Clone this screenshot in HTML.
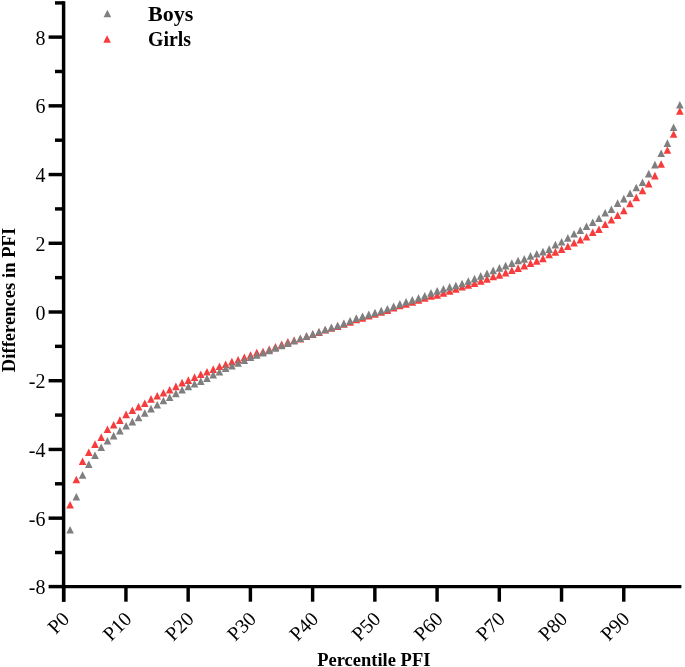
<!DOCTYPE html>
<html><head><meta charset="utf-8"><style>html,body{margin:0;padding:0;background:#fff;width:685px;height:667px;overflow:hidden}svg{display:block;will-change:transform}</style></head>
<body>
<svg width="685" height="667" viewBox="0 0 685 667">
<rect width="685" height="667" fill="#fff"/>
<path d="M70.12 501.00L73.92 508.60L66.32 508.60Z" fill="#f63c3c"/>
<path d="M76.34 475.70L80.14 483.30L72.54 483.30Z" fill="#f63c3c"/>
<path d="M82.56 457.40L86.36 465.00L78.76 465.00Z" fill="#f63c3c"/>
<path d="M88.79 448.50L92.59 456.10L84.99 456.10Z" fill="#f63c3c"/>
<path d="M95.01 440.30L98.81 447.90L91.21 447.90Z" fill="#f63c3c"/>
<path d="M101.23 433.50L105.03 441.10L97.43 441.10Z" fill="#f63c3c"/>
<path d="M107.45 425.50L111.25 433.10L103.65 433.10Z" fill="#f63c3c"/>
<path d="M113.67 420.90L117.47 428.50L109.87 428.50Z" fill="#f63c3c"/>
<path d="M119.89 416.30L123.69 423.90L116.09 423.90Z" fill="#f63c3c"/>
<path d="M126.11 410.60L129.91 418.20L122.31 418.20Z" fill="#f63c3c"/>
<path d="M132.34 406.40L136.14 414.00L128.54 414.00Z" fill="#f63c3c"/>
<path d="M138.56 402.80L142.36 410.40L134.76 410.40Z" fill="#f63c3c"/>
<path d="M144.78 399.50L148.58 407.10L140.98 407.10Z" fill="#f63c3c"/>
<path d="M151.00 395.10L154.80 402.70L147.20 402.70Z" fill="#f63c3c"/>
<path d="M157.22 392.00L161.02 399.60L153.42 399.60Z" fill="#f63c3c"/>
<path d="M163.44 388.90L167.24 396.50L159.64 396.50Z" fill="#f63c3c"/>
<path d="M169.67 385.90L173.47 393.50L165.87 393.50Z" fill="#f63c3c"/>
<path d="M175.89 382.60L179.69 390.20L172.09 390.20Z" fill="#f63c3c"/>
<path d="M182.11 378.80L185.91 386.40L178.31 386.40Z" fill="#f63c3c"/>
<path d="M188.33 376.30L192.13 383.90L184.53 383.90Z" fill="#f63c3c"/>
<path d="M194.55 373.30L198.35 380.90L190.75 380.90Z" fill="#f63c3c"/>
<path d="M200.77 370.50L204.57 378.10L196.97 378.10Z" fill="#f63c3c"/>
<path d="M206.99 367.90L210.79 375.50L203.19 375.50Z" fill="#f63c3c"/>
<path d="M213.22 365.30L217.02 372.90L209.42 372.90Z" fill="#f63c3c"/>
<path d="M219.44 362.50L223.24 370.10L215.64 370.10Z" fill="#f63c3c"/>
<path d="M225.66 360.40L229.46 368.00L221.86 368.00Z" fill="#f63c3c"/>
<path d="M231.88 357.80L235.68 365.40L228.08 365.40Z" fill="#f63c3c"/>
<path d="M238.10 356.00L241.90 363.60L234.30 363.60Z" fill="#f63c3c"/>
<path d="M244.32 353.50L248.12 361.10L240.52 361.10Z" fill="#f63c3c"/>
<path d="M250.54 351.20L254.34 358.80L246.74 358.80Z" fill="#f63c3c"/>
<path d="M256.77 348.70L260.57 356.30L252.97 356.30Z" fill="#f63c3c"/>
<path d="M262.99 347.70L266.79 355.30L259.19 355.30Z" fill="#f63c3c"/>
<path d="M269.21 345.40L273.01 353.00L265.41 353.00Z" fill="#f63c3c"/>
<path d="M275.43 343.00L279.23 350.60L271.63 350.60Z" fill="#f63c3c"/>
<path d="M281.65 340.50L285.45 348.10L277.85 348.10Z" fill="#f63c3c"/>
<path d="M287.87 338.00L291.67 345.60L284.07 345.60Z" fill="#f63c3c"/>
<path d="M294.10 336.50L297.90 344.10L290.30 344.10Z" fill="#f63c3c"/>
<path d="M300.32 335.00L304.12 342.60L296.52 342.60Z" fill="#f63c3c"/>
<path d="M306.54 332.40L310.34 340.00L302.74 340.00Z" fill="#f63c3c"/>
<path d="M312.76 330.40L316.56 338.00L308.96 338.00Z" fill="#f63c3c"/>
<path d="M318.98 328.30L322.78 335.90L315.18 335.90Z" fill="#f63c3c"/>
<path d="M325.20 326.00L329.00 333.60L321.40 333.60Z" fill="#f63c3c"/>
<path d="M331.42 324.20L335.22 331.80L327.62 331.80Z" fill="#f63c3c"/>
<path d="M337.65 322.30L341.45 329.90L333.85 329.90Z" fill="#f63c3c"/>
<path d="M343.87 320.20L347.67 327.80L340.07 327.80Z" fill="#f63c3c"/>
<path d="M350.09 318.10L353.89 325.70L346.29 325.70Z" fill="#f63c3c"/>
<path d="M356.31 315.60L360.11 323.20L352.51 323.20Z" fill="#f63c3c"/>
<path d="M362.53 314.10L366.33 321.70L358.73 321.70Z" fill="#f63c3c"/>
<path d="M368.75 312.00L372.55 319.60L364.95 319.60Z" fill="#f63c3c"/>
<path d="M374.97 310.10L378.77 317.70L371.17 317.70Z" fill="#f63c3c"/>
<path d="M381.20 308.10L385.00 315.70L377.40 315.70Z" fill="#f63c3c"/>
<path d="M387.42 306.40L391.22 314.00L383.62 314.00Z" fill="#f63c3c"/>
<path d="M393.64 303.80L397.44 311.40L389.84 311.40Z" fill="#f63c3c"/>
<path d="M399.86 301.60L403.66 309.20L396.06 309.20Z" fill="#f63c3c"/>
<path d="M406.08 300.10L409.88 307.70L402.28 307.70Z" fill="#f63c3c"/>
<path d="M412.30 298.10L416.10 305.70L408.50 305.70Z" fill="#f63c3c"/>
<path d="M418.53 296.10L422.33 303.70L414.73 303.70Z" fill="#f63c3c"/>
<path d="M424.75 294.10L428.55 301.70L420.95 301.70Z" fill="#f63c3c"/>
<path d="M430.97 292.20L434.77 299.80L427.17 299.80Z" fill="#f63c3c"/>
<path d="M437.19 291.20L440.99 298.80L433.39 298.80Z" fill="#f63c3c"/>
<path d="M443.41 289.20L447.21 296.80L439.61 296.80Z" fill="#f63c3c"/>
<path d="M449.63 287.20L453.43 294.80L445.83 294.80Z" fill="#f63c3c"/>
<path d="M455.85 285.20L459.65 292.80L452.05 292.80Z" fill="#f63c3c"/>
<path d="M462.08 283.00L465.88 290.60L458.28 290.60Z" fill="#f63c3c"/>
<path d="M468.30 281.20L472.10 288.80L464.50 288.80Z" fill="#f63c3c"/>
<path d="M474.52 279.30L478.32 286.90L470.72 286.90Z" fill="#f63c3c"/>
<path d="M480.74 277.10L484.54 284.70L476.94 284.70Z" fill="#f63c3c"/>
<path d="M486.96 275.10L490.76 282.70L483.16 282.70Z" fill="#f63c3c"/>
<path d="M493.18 272.60L496.98 280.20L489.38 280.20Z" fill="#f63c3c"/>
<path d="M499.40 271.10L503.20 278.70L495.60 278.70Z" fill="#f63c3c"/>
<path d="M505.63 268.80L509.43 276.40L501.83 276.40Z" fill="#f63c3c"/>
<path d="M511.85 266.50L515.65 274.10L508.05 274.10Z" fill="#f63c3c"/>
<path d="M518.07 264.30L521.87 271.90L514.27 271.90Z" fill="#f63c3c"/>
<path d="M524.29 261.80L528.09 269.40L520.49 269.40Z" fill="#f63c3c"/>
<path d="M530.51 259.30L534.31 266.90L526.71 266.90Z" fill="#f63c3c"/>
<path d="M536.73 257.10L540.53 264.70L532.93 264.70Z" fill="#f63c3c"/>
<path d="M542.96 254.60L546.76 262.20L539.16 262.20Z" fill="#f63c3c"/>
<path d="M549.18 250.70L552.98 258.30L545.38 258.30Z" fill="#f63c3c"/>
<path d="M555.40 248.10L559.20 255.70L551.60 255.70Z" fill="#f63c3c"/>
<path d="M561.62 245.30L565.42 252.90L557.82 252.90Z" fill="#f63c3c"/>
<path d="M567.84 242.40L571.64 250.00L564.04 250.00Z" fill="#f63c3c"/>
<path d="M574.06 239.00L577.86 246.60L570.26 246.60Z" fill="#f63c3c"/>
<path d="M580.28 236.00L584.08 243.60L576.48 243.60Z" fill="#f63c3c"/>
<path d="M586.51 233.00L590.31 240.60L582.71 240.60Z" fill="#f63c3c"/>
<path d="M592.73 228.50L596.53 236.10L588.93 236.10Z" fill="#f63c3c"/>
<path d="M598.95 225.50L602.75 233.10L595.15 233.10Z" fill="#f63c3c"/>
<path d="M605.17 220.50L608.97 228.10L601.37 228.10Z" fill="#f63c3c"/>
<path d="M611.39 216.00L615.19 223.60L607.59 223.60Z" fill="#f63c3c"/>
<path d="M617.61 211.50L621.41 219.10L613.81 219.10Z" fill="#f63c3c"/>
<path d="M623.83 206.70L627.63 214.30L620.03 214.30Z" fill="#f63c3c"/>
<path d="M630.06 199.70L633.86 207.30L626.26 207.30Z" fill="#f63c3c"/>
<path d="M636.28 193.60L640.08 201.20L632.48 201.20Z" fill="#f63c3c"/>
<path d="M642.50 186.70L646.30 194.30L638.70 194.30Z" fill="#f63c3c"/>
<path d="M648.72 180.00L652.52 187.60L644.92 187.60Z" fill="#f63c3c"/>
<path d="M654.94 171.80L658.74 179.40L651.14 179.40Z" fill="#f63c3c"/>
<path d="M661.16 160.20L664.96 167.80L657.36 167.80Z" fill="#f63c3c"/>
<path d="M667.39 146.20L671.19 153.80L663.59 153.80Z" fill="#f63c3c"/>
<path d="M673.61 130.20L677.41 137.80L669.81 137.80Z" fill="#f63c3c"/>
<path d="M679.83 107.20L683.63 114.80L676.03 114.80Z" fill="#f63c3c"/>
<path d="M70.12 526.00L73.92 533.60L66.32 533.60Z" fill="#7f7f7f"/>
<path d="M76.34 493.00L80.14 500.60L72.54 500.60Z" fill="#7f7f7f"/>
<path d="M82.56 471.20L86.36 478.80L78.76 478.80Z" fill="#7f7f7f"/>
<path d="M88.79 460.50L92.59 468.10L84.99 468.10Z" fill="#7f7f7f"/>
<path d="M95.01 451.40L98.81 459.00L91.21 459.00Z" fill="#7f7f7f"/>
<path d="M101.23 443.50L105.03 451.10L97.43 451.10Z" fill="#7f7f7f"/>
<path d="M107.45 436.90L111.25 444.50L103.65 444.50Z" fill="#7f7f7f"/>
<path d="M113.67 431.80L117.47 439.40L109.87 439.40Z" fill="#7f7f7f"/>
<path d="M119.89 426.80L123.69 434.40L116.09 434.40Z" fill="#7f7f7f"/>
<path d="M126.11 421.90L129.91 429.50L122.31 429.50Z" fill="#7f7f7f"/>
<path d="M132.34 417.80L136.14 425.40L128.54 425.40Z" fill="#7f7f7f"/>
<path d="M138.56 413.70L142.36 421.30L134.76 421.30Z" fill="#7f7f7f"/>
<path d="M144.78 409.20L148.58 416.80L140.98 416.80Z" fill="#7f7f7f"/>
<path d="M151.00 404.80L154.80 412.40L147.20 412.40Z" fill="#7f7f7f"/>
<path d="M157.22 400.90L161.02 408.50L153.42 408.50Z" fill="#7f7f7f"/>
<path d="M163.44 396.70L167.24 404.30L159.64 404.30Z" fill="#7f7f7f"/>
<path d="M169.67 393.50L173.47 401.10L165.87 401.10Z" fill="#7f7f7f"/>
<path d="M175.89 389.60L179.69 397.20L172.09 397.20Z" fill="#7f7f7f"/>
<path d="M182.11 386.00L185.91 393.60L178.31 393.60Z" fill="#7f7f7f"/>
<path d="M188.33 382.60L192.13 390.20L184.53 390.20Z" fill="#7f7f7f"/>
<path d="M194.55 380.00L198.35 387.60L190.75 387.60Z" fill="#7f7f7f"/>
<path d="M200.77 377.30L204.57 384.90L196.97 384.90Z" fill="#7f7f7f"/>
<path d="M206.99 374.50L210.79 382.10L203.19 382.10Z" fill="#7f7f7f"/>
<path d="M213.22 370.80L217.02 378.40L209.42 378.40Z" fill="#7f7f7f"/>
<path d="M219.44 367.90L223.24 375.50L215.64 375.50Z" fill="#7f7f7f"/>
<path d="M225.66 364.30L229.46 371.90L221.86 371.90Z" fill="#7f7f7f"/>
<path d="M231.88 362.00L235.68 369.60L228.08 369.60Z" fill="#7f7f7f"/>
<path d="M238.10 359.20L241.90 366.80L234.30 366.80Z" fill="#7f7f7f"/>
<path d="M244.32 356.50L248.12 364.10L240.52 364.10Z" fill="#7f7f7f"/>
<path d="M250.54 353.40L254.34 361.00L246.74 361.00Z" fill="#7f7f7f"/>
<path d="M256.77 351.20L260.57 358.80L252.97 358.80Z" fill="#7f7f7f"/>
<path d="M262.99 348.90L266.79 356.50L259.19 356.50Z" fill="#7f7f7f"/>
<path d="M269.21 346.60L273.01 354.20L265.41 354.20Z" fill="#7f7f7f"/>
<path d="M275.43 344.10L279.23 351.70L271.63 351.70Z" fill="#7f7f7f"/>
<path d="M281.65 341.70L285.45 349.30L277.85 349.30Z" fill="#7f7f7f"/>
<path d="M287.87 339.30L291.67 346.90L284.07 346.90Z" fill="#7f7f7f"/>
<path d="M294.10 336.90L297.90 344.50L290.30 344.50Z" fill="#7f7f7f"/>
<path d="M300.32 334.40L304.12 342.00L296.52 342.00Z" fill="#7f7f7f"/>
<path d="M306.54 332.10L310.34 339.70L302.74 339.70Z" fill="#7f7f7f"/>
<path d="M312.76 330.10L316.56 337.70L308.96 337.70Z" fill="#7f7f7f"/>
<path d="M318.98 328.00L322.78 335.60L315.18 335.60Z" fill="#7f7f7f"/>
<path d="M325.20 325.70L329.00 333.30L321.40 333.30Z" fill="#7f7f7f"/>
<path d="M331.42 323.60L335.22 331.20L327.62 331.20Z" fill="#7f7f7f"/>
<path d="M337.65 321.70L341.45 329.30L333.85 329.30Z" fill="#7f7f7f"/>
<path d="M343.87 319.60L347.67 327.20L340.07 327.20Z" fill="#7f7f7f"/>
<path d="M350.09 316.90L353.89 324.50L346.29 324.50Z" fill="#7f7f7f"/>
<path d="M356.31 314.30L360.11 321.90L352.51 321.90Z" fill="#7f7f7f"/>
<path d="M362.53 312.50L366.33 320.10L358.73 320.10Z" fill="#7f7f7f"/>
<path d="M368.75 310.60L372.55 318.20L364.95 318.20Z" fill="#7f7f7f"/>
<path d="M374.97 308.80L378.77 316.40L371.17 316.40Z" fill="#7f7f7f"/>
<path d="M381.20 306.80L385.00 314.40L377.40 314.40Z" fill="#7f7f7f"/>
<path d="M387.42 304.90L391.22 312.50L383.62 312.50Z" fill="#7f7f7f"/>
<path d="M393.64 302.50L397.44 310.10L389.84 310.10Z" fill="#7f7f7f"/>
<path d="M399.86 300.10L403.66 307.70L396.06 307.70Z" fill="#7f7f7f"/>
<path d="M406.08 297.90L409.88 305.50L402.28 305.50Z" fill="#7f7f7f"/>
<path d="M412.30 296.10L416.10 303.70L408.50 303.70Z" fill="#7f7f7f"/>
<path d="M418.53 294.20L422.33 301.80L414.73 301.80Z" fill="#7f7f7f"/>
<path d="M424.75 292.00L428.55 299.60L420.95 299.60Z" fill="#7f7f7f"/>
<path d="M430.97 289.10L434.77 296.70L427.17 296.70Z" fill="#7f7f7f"/>
<path d="M437.19 287.10L440.99 294.70L433.39 294.70Z" fill="#7f7f7f"/>
<path d="M443.41 285.10L447.21 292.70L439.61 292.70Z" fill="#7f7f7f"/>
<path d="M449.63 283.10L453.43 290.70L445.83 290.70Z" fill="#7f7f7f"/>
<path d="M455.85 281.70L459.65 289.30L452.05 289.30Z" fill="#7f7f7f"/>
<path d="M462.08 279.70L465.88 287.30L458.28 287.30Z" fill="#7f7f7f"/>
<path d="M468.30 277.20L472.10 284.80L464.50 284.80Z" fill="#7f7f7f"/>
<path d="M474.52 274.80L478.32 282.40L470.72 282.40Z" fill="#7f7f7f"/>
<path d="M480.74 272.10L484.54 279.70L476.94 279.70Z" fill="#7f7f7f"/>
<path d="M486.96 269.60L490.76 277.20L483.16 277.20Z" fill="#7f7f7f"/>
<path d="M493.18 266.60L496.98 274.20L489.38 274.20Z" fill="#7f7f7f"/>
<path d="M499.40 264.10L503.20 271.70L495.60 271.70Z" fill="#7f7f7f"/>
<path d="M505.63 261.80L509.43 269.40L501.83 269.40Z" fill="#7f7f7f"/>
<path d="M511.85 259.30L515.65 266.90L508.05 266.90Z" fill="#7f7f7f"/>
<path d="M518.07 256.70L521.87 264.30L514.27 264.30Z" fill="#7f7f7f"/>
<path d="M524.29 255.10L528.09 262.70L520.49 262.70Z" fill="#7f7f7f"/>
<path d="M530.51 252.10L534.31 259.70L526.71 259.70Z" fill="#7f7f7f"/>
<path d="M536.73 250.00L540.53 257.60L532.93 257.60Z" fill="#7f7f7f"/>
<path d="M542.96 247.80L546.76 255.40L539.16 255.40Z" fill="#7f7f7f"/>
<path d="M549.18 245.30L552.98 252.90L545.38 252.90Z" fill="#7f7f7f"/>
<path d="M555.40 240.80L559.20 248.40L551.60 248.40Z" fill="#7f7f7f"/>
<path d="M561.62 237.90L565.42 245.50L557.82 245.50Z" fill="#7f7f7f"/>
<path d="M567.84 234.10L571.64 241.70L564.04 241.70Z" fill="#7f7f7f"/>
<path d="M574.06 230.00L577.86 237.60L570.26 237.60Z" fill="#7f7f7f"/>
<path d="M580.28 226.40L584.08 234.00L576.48 234.00Z" fill="#7f7f7f"/>
<path d="M586.51 222.50L590.31 230.10L582.71 230.10Z" fill="#7f7f7f"/>
<path d="M592.73 218.50L596.53 226.10L588.93 226.10Z" fill="#7f7f7f"/>
<path d="M598.95 214.50L602.75 222.10L595.15 222.10Z" fill="#7f7f7f"/>
<path d="M605.17 209.00L608.97 216.60L601.37 216.60Z" fill="#7f7f7f"/>
<path d="M611.39 205.50L615.19 213.10L607.59 213.10Z" fill="#7f7f7f"/>
<path d="M617.61 199.30L621.41 206.90L613.81 206.90Z" fill="#7f7f7f"/>
<path d="M623.83 194.80L627.63 202.40L620.03 202.40Z" fill="#7f7f7f"/>
<path d="M630.06 189.40L633.86 197.00L626.26 197.00Z" fill="#7f7f7f"/>
<path d="M636.28 183.70L640.08 191.30L632.48 191.30Z" fill="#7f7f7f"/>
<path d="M642.50 178.50L646.30 186.10L638.70 186.10Z" fill="#7f7f7f"/>
<path d="M648.72 169.80L652.52 177.40L644.92 177.40Z" fill="#7f7f7f"/>
<path d="M654.94 160.80L658.74 168.40L651.14 168.40Z" fill="#7f7f7f"/>
<path d="M661.16 149.50L664.96 157.10L657.36 157.10Z" fill="#7f7f7f"/>
<path d="M667.39 139.30L671.19 146.90L663.59 146.90Z" fill="#7f7f7f"/>
<path d="M673.61 123.50L677.41 131.10L669.81 131.10Z" fill="#7f7f7f"/>
<path d="M679.83 101.00L683.63 108.60L676.03 108.60Z" fill="#7f7f7f"/>
<g stroke="#000" stroke-width="3.45" fill="none" stroke-linecap="butt">
<line x1="63.6" y1="1.2" x2="63.6" y2="601.7"/>
<line x1="61.875" y1="586.60" x2="681.4" y2="586.60"/>
<line x1="48.6" y1="586.60" x2="63.6" y2="586.60"/>
<line x1="55.0" y1="552.52" x2="63.6" y2="552.52"/>
<line x1="48.6" y1="518.16" x2="63.6" y2="518.16"/>
<line x1="55.0" y1="483.80" x2="63.6" y2="483.80"/>
<line x1="48.6" y1="449.44" x2="63.6" y2="449.44"/>
<line x1="55.0" y1="415.08" x2="63.6" y2="415.08"/>
<line x1="48.6" y1="380.72" x2="63.6" y2="380.72"/>
<line x1="55.0" y1="346.36" x2="63.6" y2="346.36"/>
<line x1="48.6" y1="312.00" x2="63.6" y2="312.00"/>
<line x1="55.0" y1="277.64" x2="63.6" y2="277.64"/>
<line x1="48.6" y1="243.28" x2="63.6" y2="243.28"/>
<line x1="55.0" y1="208.92" x2="63.6" y2="208.92"/>
<line x1="48.6" y1="174.56" x2="63.6" y2="174.56"/>
<line x1="55.0" y1="140.20" x2="63.6" y2="140.20"/>
<line x1="48.6" y1="105.84" x2="63.6" y2="105.84"/>
<line x1="55.0" y1="71.48" x2="63.6" y2="71.48"/>
<line x1="48.6" y1="37.12" x2="63.6" y2="37.12"/>
<line x1="55.0" y1="2.92" x2="63.6" y2="2.92"/>
<line x1="63.70" y1="586.60" x2="63.70" y2="601.7"/>
<line x1="125.93" y1="586.60" x2="125.93" y2="601.7"/>
<line x1="188.16" y1="586.60" x2="188.16" y2="601.7"/>
<line x1="250.39" y1="586.60" x2="250.39" y2="601.7"/>
<line x1="312.62" y1="586.60" x2="312.62" y2="601.7"/>
<line x1="374.85" y1="586.60" x2="374.85" y2="601.7"/>
<line x1="437.08" y1="586.60" x2="437.08" y2="601.7"/>
<line x1="499.31" y1="586.60" x2="499.31" y2="601.7"/>
<line x1="561.54" y1="586.60" x2="561.54" y2="601.7"/>
<line x1="623.77" y1="586.60" x2="623.77" y2="601.7"/>
</g>
<g font-family="Liberation Serif" font-size="20" fill="#000" text-anchor="end">
<text x="45.5" y="594.38">-8</text>
<text x="45.5" y="525.66">-6</text>
<text x="45.5" y="456.94">-4</text>
<text x="45.5" y="388.22">-2</text>
<text x="45.5" y="319.50">0</text>
<text x="45.5" y="250.78">2</text>
<text x="45.5" y="182.06">4</text>
<text x="45.5" y="113.34">6</text>
<text x="45.5" y="44.62">8</text>
</g>
<g font-family="Liberation Serif" font-size="20" fill="#000" text-anchor="end">
<text x="70.70" y="620.10" transform="rotate(-45 70.70 620.10)">P0</text>
<text x="132.93" y="620.10" transform="rotate(-45 132.93 620.10)">P10</text>
<text x="195.16" y="620.10" transform="rotate(-45 195.16 620.10)">P20</text>
<text x="257.39" y="620.10" transform="rotate(-45 257.39 620.10)">P30</text>
<text x="319.62" y="620.10" transform="rotate(-45 319.62 620.10)">P40</text>
<text x="381.85" y="620.10" transform="rotate(-45 381.85 620.10)">P50</text>
<text x="444.08" y="620.10" transform="rotate(-45 444.08 620.10)">P60</text>
<text x="506.31" y="620.10" transform="rotate(-45 506.31 620.10)">P70</text>
<text x="568.54" y="620.10" transform="rotate(-45 568.54 620.10)">P80</text>
<text x="630.77" y="620.10" transform="rotate(-45 630.77 620.10)">P90</text>
</g>
<g font-family="Liberation Serif" font-weight="bold" fill="#000">
<text x="373.8" y="665.5" font-size="18.5" text-anchor="middle">Percentile PFI</text>
<text x="0" y="0" font-size="18.6" text-anchor="middle" transform="translate(14.6 300) rotate(-90)">Differences in PFI</text>
<text x="148" y="20.8" font-size="22">Boys</text>
<text x="148" y="46.2" font-size="22" textLength="43" lengthAdjust="spacingAndGlyphs">Girls</text>
</g>
<path d="M107.40 9.70L111.20 17.30L103.60 17.30Z" fill="#7f7f7f"/>
<path d="M107.10 35.20L110.90 42.80L103.30 42.80Z" fill="#f63c3c"/>
</svg>
</body></html>
